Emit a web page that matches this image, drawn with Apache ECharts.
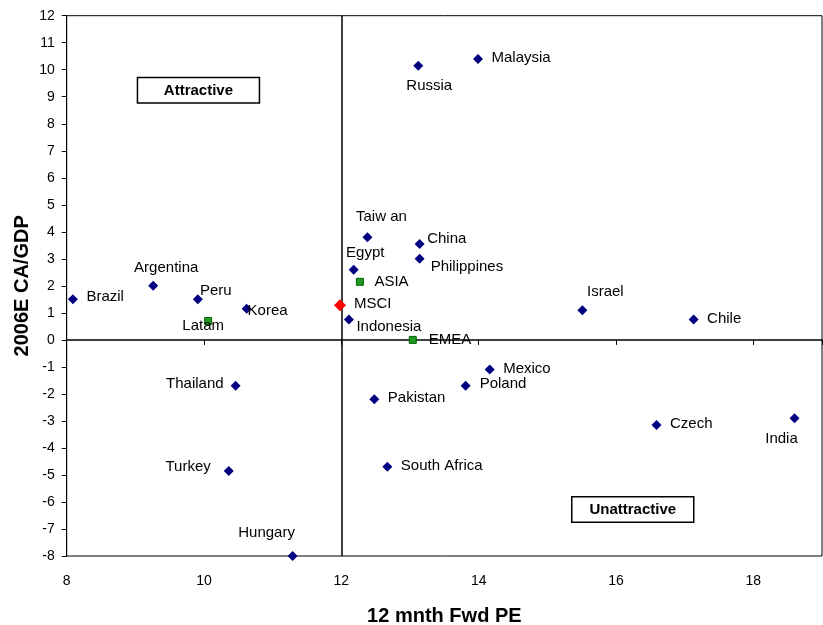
<!DOCTYPE html>
<html>
<head>
<meta charset="utf-8">
<script src="https://cdn.jsdelivr.net/npm/echarts@6/dist/echarts.min.js"></script>
<style>
  html, body { margin: 0; padding: 0; background: #fff; }
  #main { width: 823px; height: 625px; }
</style>
</head>
<body>
<div id="main"></div>
<script>
// countries (navy diamonds)
var countries = ['Brazil', 'Argentina', 'Peru', 'Korea', 'Indonesia', 'Taiw an', 'Egypt', 'Russia', 'Malaysia',
    'China', 'Philippines', 'Israel', 'Chile', 'Mexico', 'Poland', 'Pakistan', 'South Africa', 'Czech',
    'India', 'Thailand', 'Turkey', 'Hungary'];
var countryPE = [8.09, 9.26, 9.91, 10.62, 12.11, 12.38, 12.18, 13.12, 13.99,
    13.14, 13.14, 15.51, 17.13, 14.16, 13.81, 12.48, 12.67, 16.59,
    18.6, 10.46, 10.36, 11.29];
var countryCA = [1.5, 2.0, 1.5, 1.15, 0.75, 3.8, 2.6, 10.15, 10.4,
    3.55, 3.0, 1.1, 0.75, -1.1, -1.7, -2.2, -4.7, -3.15,
    -2.9, -1.7, -4.85, -8.0];

// regional aggregates (green squares)
var regions = ['Latam', 'ASIA', 'EMEA'];
var regionPE = [10.06, 12.27, 13.04];
var regionCA = [0.7, 2.15, 0.0];

// benchmark (red diamond)
var benchmark = ['MSCI'];
var benchPE = [11.98];
var benchCA = [1.28];

// label placement, kept apart from the values
var labelStyle = {
    'Brazil':       { position: 'right', distance: 8.5, offset: [0, -2] },
    'Argentina':    { position: 'inside', offset: [13, -18] },
    'Peru':         { position: 'inside', offset: [18, -8] },
    'Korea':        { position: 'inside', offset: [21, 2] },
    'Indonesia':    { position: 'inside', offset: [40, 7] },
    'Taiw an':      { position: 'inside', offset: [14, -20] },
    'Egypt':        { position: 'inside', offset: [11.5, -17] },
    'Russia':       { position: 'inside', offset: [11, 20] },
    'Malaysia':     { position: 'right', distance: 8.5, offset: [0, -1] },
    'China':        { position: 'right', distance: 2.5, offset: [0, -5] },
    'Philippines':  { position: 'right', distance: 6, offset: [0, 8] },
    'Israel':       { position: 'inside', offset: [23, -18] },
    'Chile':        { position: 'right', distance: 8.5, offset: [0, -1] },
    'Mexico':       { position: 'right', distance: 8.5, offset: [0, -1] },
    'Poland':       { position: 'right', distance: 9, offset: [0, -1.5] },
    'Pakistan':     { position: 'right', distance: 8.5, offset: [0, -1] },
    'South Africa': { position: 'right', distance: 8.5, offset: [0, -1] },
    'Czech':        { position: 'right', distance: 8.5, offset: [0, -1] },
    'India':        { position: 'inside', offset: [-13, 21] },
    'Thailand':     { position: 'left', distance: 7, offset: [0, -1.5] },
    'Turkey':       { position: 'left', distance: 13, offset: [0, -4] },
    'Hungary':      { position: 'inside', offset: [-26, -23] },
    'Latam':        { position: 'inside', offset: [-5, 5] },
    'ASIA':         { position: 'right', distance: 10.5, offset: [0, 0] },
    'EMEA':         { position: 'right', distance: 12, offset: [0, 0] },
    'MSCI':         { position: 'right', distance: 8, offset: [0, -1] }
};

var FONT = 'Liberation Sans, Arial, sans-serif';

function buildData(names, xs, ys) {
    var out = [];
    for (var i = 0; i < names.length; i++) {
        var ls = labelStyle[names[i]] || { position: 'right', distance: 8.5 };
        out.push({
            name: names[i],
            value: [xs[i], ys[i]],
            label: {
                show: true,
                position: ls.position,
                distance: ls.distance === undefined ? 5 : ls.distance,
                offset: ls.offset || [0, 0]
            }
        });
    }
    return out;
}

var labelBase = {
    show: true,
    formatter: '{b}',
    color: '#000',
    fontFamily: FONT,
    fontSize: 15
};

var chart = echarts.init(document.getElementById('main'));

var option = {
    animation: false,
    backgroundColor: '#fff',
    grid: {
        left: 66.7, top: 15.7, right: 1, bottom: 69,
        outerBoundsMode: 'none',
        containLabel: false,
        show: true, borderColor: '#000', borderWidth: 1
    },
    xAxis: [{
        type: 'value',
        min: 8, max: 19, interval: 2,
        position: 'bottom',
        axisLine: { show: false, onZero: false },
        axisTick: { show: false },
        splitLine: { show: false },
        axisLabel: {
            color: '#000', fontFamily: FONT, fontSize: 14, margin: 18,
            showMaxLabel: false
        },
        name: '12 mnth Fwd PE',
        nameLocation: 'middle',
        nameGap: 50,
        nameMoveOverlap: false,
        nameTextStyle: { color: '#000', fontFamily: FONT, fontSize: 20, fontWeight: 'bold' }
    }, {
        type: 'value',
        min: 8, max: 19, interval: 2,
        position: 'bottom',
        axisLine: { show: true, onZero: true, onZeroAxisIndex: 0, lineStyle: { color: '#000', width: 1.5 } },
        axisTick: { show: true, length: 5, lineStyle: { color: '#000' } },
        splitLine: { show: false },
        axisLabel: { show: false }
    }],
    yAxis: {
        type: 'value',
        min: -8, max: 12, interval: 1,
        axisLine: { show: true, onZero: false, lineStyle: { color: '#000' } },
        axisTick: { show: true, length: 5, lineStyle: { color: '#000' } },
        splitLine: { show: false },
        axisLabel: { color: '#000', fontFamily: FONT, fontSize: 14, margin: 12 },
        name: '2006E CA/GDP',
        nameLocation: 'middle',
        nameGap: 34,
        nameMoveOverlap: false,
        nameTextStyle: { color: '#000', fontFamily: FONT, fontSize: 20, fontWeight: 'bold' }
    },
    series: [{
        name: 'Countries',
        type: 'scatter',
        symbol: 'diamond',
        symbolSize: 10,
        itemStyle: { color: '#000080', opacity: 1 },
        label: labelBase,
        data: buildData(countries, countryPE, countryCA),
        markLine: {
            silent: true,
            symbol: 'none',
            label: { show: false },
            lineStyle: { color: '#000', width: 1.5, type: 'solid' },
            data: [{ xAxis: 12 }]
        },
        z: 3
    }, {
        name: 'Regions',
        type: 'scatter',
        symbol: 'rect',
        symbolSize: 7,
        itemStyle: { color: '#229922', borderColor: '#006400', borderWidth: 1, opacity: 1 },
        label: labelBase,
        data: buildData(regions, regionPE, regionCA),
        z: 4
    }, {
        name: 'MSCI',
        type: 'scatter',
        symbol: 'diamond',
        symbolSize: 12,
        itemStyle: { color: '#ff0000', opacity: 1 },
        label: labelBase,
        data: buildData(benchmark, benchPE, benchCA),
        z: 5
    }],
    graphic: [{
        type: 'group',
        left: 136.7, top: 76.7,
        children: [{
            type: 'rect',
            shape: { x: 0, y: 0, width: 122, height: 25.5 },
            style: { fill: '#fff', stroke: '#000', lineWidth: 1.5 }
        }, {
            type: 'text',
            x: 61, y: 13,
            style: {
                text: 'Attractive', fill: '#000', align: 'center', verticalAlign: 'middle',
                font: 'bold 15px ' + FONT
            }
        }]
    }, {
        type: 'group',
        left: 571, top: 496,
        children: [{
            type: 'rect',
            shape: { x: 0, y: 0, width: 122, height: 25.5 },
            style: { fill: '#fff', stroke: '#000', lineWidth: 1.5 }
        }, {
            type: 'text',
            x: 61, y: 13,
            style: {
                text: 'Unattractive', fill: '#000', align: 'center', verticalAlign: 'middle',
                font: 'bold 15px ' + FONT
            }
        }]
    }]
};

chart.setOption(option);
window.addEventListener('resize', function () {
    chart.resize();
});
</script>
</body>
</html>
